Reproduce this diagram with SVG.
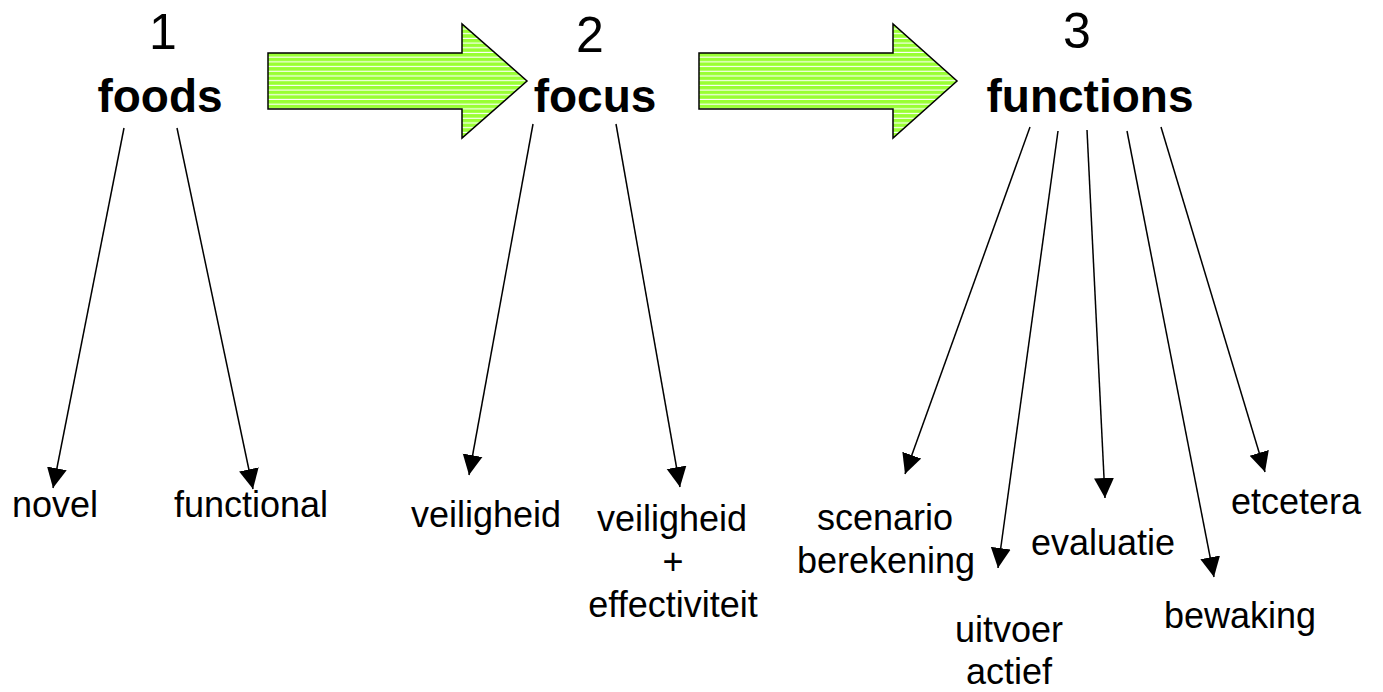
<svg xmlns="http://www.w3.org/2000/svg" width="1383" height="692" viewBox="0 0 1383 692">
<defs>
<pattern id="stripes" patternUnits="userSpaceOnUse" x="0" y="53" width="10" height="4.7">
<rect x="0" y="0" width="10" height="4.7" fill="#99FF33"/>
<rect x="0" y="3.6" width="10" height="1.1" fill="#ffffff"/>
</pattern>
<marker id="ah" markerUnits="userSpaceOnUse" markerWidth="22" markerHeight="22" refX="20" refY="11" orient="auto">
<path d="M0,1 L20,11 L0,21 z" fill="#000"/>
</marker>
</defs>
<style>
.big{font-family:"Liberation Sans",Arial,sans-serif;font-weight:bold;font-size:46px;fill:#000;text-anchor:middle}
.num{font-family:"Liberation Sans",Arial,sans-serif;font-size:50px;fill:#000;text-anchor:middle}
.lbl{font-family:"Liberation Sans",Arial,sans-serif;font-size:36px;fill:#000;text-anchor:middle}
.conn line{stroke:#000;stroke-width:1.5;marker-end:url(#ah)}
.garrow{fill:url(#stripes);stroke:#000;stroke-width:1.5;stroke-linejoin:miter}
</style>
<g id="bigarrow1"><polygon class="garrow" points="268,53 462,53 462,24 527,81 462,138 462,109 268,109"/></g>
<g id="bigarrow2"><polygon class="garrow" points="699,53 893,53 893,24 957,81 893,138 893,109 699,109"/></g>
<g id="node-foods"><text class="num" x="163" y="49">1</text><text class="big" x="160" y="112">foods</text></g>
<g id="node-focus"><text class="num" x="590" y="52">2</text><text class="big" x="595" y="112">focus</text></g>
<g id="node-functions"><text class="num" x="1077" y="48">3</text><text class="big" x="1090" y="112">functions</text></g>
<g id="node-novel"><text class="lbl" x="55" y="517">novel</text></g>
<g id="node-functional"><text class="lbl" x="251" y="517">functional</text></g>
<g id="node-veiligheid"><text class="lbl" x="486" y="527">veiligheid</text></g>
<g id="node-veiligheid-effectiviteit"><text class="lbl" x="672" y="531">veiligheid</text><text class="lbl" x="673" y="574">+</text><text class="lbl" x="673" y="617">effectiviteit</text></g>
<g id="node-scenario"><text class="lbl" x="885" y="530">scenario</text><text class="lbl" x="886" y="573">berekening</text></g>
<g id="node-uitvoer"><text class="lbl" x="1009" y="642">uitvoer</text><text class="lbl" x="1009" y="684">actief</text></g>
<g id="node-evaluatie"><text class="lbl" x="1103" y="555">evaluatie</text></g>
<g id="node-bewaking"><text class="lbl" x="1240" y="628">bewaking</text></g>
<g id="node-etcetera"><text class="lbl" x="1296" y="514">etcetera</text></g>
<g id="connectors" class="conn">
<line x1="124" y1="128" x2="53" y2="488"/>
<line x1="177" y1="128" x2="253" y2="489"/>
<line x1="533" y1="124" x2="469" y2="475"/>
<line x1="616" y1="124" x2="680" y2="487"/>
<line x1="1030" y1="127" x2="905" y2="474"/>
<line x1="1058" y1="131" x2="998" y2="568"/>
<line x1="1087" y1="130" x2="1105" y2="498"/>
<line x1="1127" y1="131" x2="1214" y2="577"/>
<line x1="1161" y1="127" x2="1265" y2="472"/>
</g>
</svg>
